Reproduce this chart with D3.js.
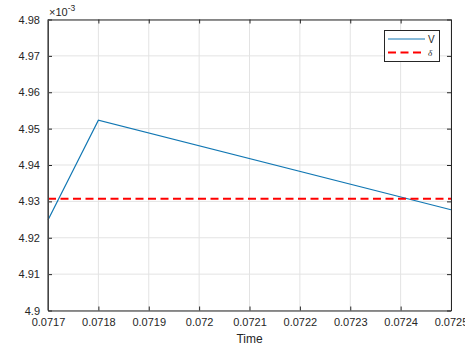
<!DOCTYPE html>
<html><head><meta charset="utf-8">
<script src="https://cdn.jsdelivr.net/npm/d3@7"></script>
<style>
body{margin:0;background:#fff;}
svg{display:block;font-family:"Liberation Sans",Arial,Helvetica,sans-serif;}
</style></head>
<body>
<svg id="chart" width="465" height="347"></svg>
<script>
// Data
const timeValues = [0.0717, 0.0718, 0.0725];
const vValues = [0.0049249, 0.0049523, 0.0049277];
const deltaValue = 0.0049307;
const xTicks = [0.0717, 0.0718, 0.0719, 0.0720, 0.0721, 0.0722, 0.0723, 0.0724, 0.0725];
const xTickLabels = ["0.0717","0.0718","0.0719","0.072","0.0721","0.0722","0.0723","0.0724","0.0725"];
const yTicks = [0.00490,0.00491,0.00492,0.00493,0.00494,0.00495,0.00496,0.00497,0.00498];
const yTickLabels = ["4.9","4.91","4.92","4.93","4.94","4.95","4.96","4.97","4.98"];
const seriesNames = ["V", "\u03b4"];

const svg = d3.select("#chart");
const L = 48, R = 451, T = 19.5, B = 310.5;
const x = d3.scaleLinear().domain([0.0717, 0.0725]).range([L, R]);
const y = d3.scaleLinear().domain([0.0049, 0.00498]).range([B, T]);
const vColor = "#1177b3";

// grid
const g = svg.append("g");
g.selectAll(".gx").data(xTicks).join("line")
  .attr("x1", d => x(d)).attr("x2", d => x(d)).attr("y1", T).attr("y2", B)
  .attr("stroke", "#e3e3e3").attr("stroke-width", 1);
g.selectAll(".gy").data(yTicks).join("line")
  .attr("y1", d => y(d)).attr("y2", d => y(d)).attr("x1", L).attr("x2", R)
  .attr("stroke", "#e3e3e3").attr("stroke-width", 1);

// series
const line = d3.line().x((d, i) => x(timeValues[i])).y(d => y(d));
svg.append("path").datum(vValues).attr("d", line)
  .attr("fill", "none").attr("stroke", vColor).attr("stroke-width", 1.2);
svg.append("line")
  .attr("x1", x(0.0717)).attr("x2", x(0.0725))
  .attr("y1", y(deltaValue)).attr("y2", y(deltaValue))
  .attr("stroke", "#ff0000").attr("stroke-width", 2).attr("stroke-dasharray", "8,4.5");

// axes
const tickLen = 4;
const xAxis = d3.axisBottom(x).tickValues(xTicks).tickFormat((d, i) => xTickLabels[i]).tickSizeInner(-tickLen).tickSizeOuter(0).tickPadding(8);
const yAxis = d3.axisLeft(y).tickValues(yTicks).tickFormat((d, i) => yTickLabels[i]).tickSizeInner(-tickLen).tickSizeOuter(0).tickPadding(8);
const xTop = d3.axisTop(x).tickValues(xTicks).tickFormat("").tickSizeInner(-tickLen).tickSizeOuter(0);
const yRight = d3.axisRight(y).tickValues(yTicks).tickFormat("").tickSizeInner(-tickLen).tickSizeOuter(0);

function style(sel) {
  sel.selectAll("path").attr("stroke", "#262626").attr("stroke-width", 1);
  sel.selectAll("line").attr("stroke", "#262626").attr("stroke-width", 1);
  sel.selectAll("text").attr("fill", "#262626").attr("font-size", 11).attr("font-family", "Liberation Sans, Arial, sans-serif");
}
svg.append("g").attr("transform", `translate(0,${B})`).call(xAxis).call(style);
svg.append("g").attr("transform", `translate(${L},0)`).call(yAxis).call(style);
svg.append("g").attr("transform", `translate(0,${T})`).call(xTop).call(style);
svg.append("g").attr("transform", `translate(${R},0)`).call(yRight).call(style);
svg.selectAll(".domain").attr("stroke", "#262626");
svg.append("line").attr("x1", L).attr("x2", L).attr("y1", T).attr("y2", B).attr("stroke", "#555").attr("stroke-width", 1.3);

// exponent label
const ex = svg.append("text").attr("x", 49).attr("y", 16).attr("fill", "#262626")
  .attr("font-size", 11).attr("font-family", "Liberation Sans, Arial, sans-serif");
ex.append("tspan").text("\u00d710");
ex.append("tspan").attr("dy", -5).attr("font-size", 8.5).text("-3");

// x label
svg.append("text").attr("x", (L + R) / 2).attr("y", 343).attr("text-anchor", "middle")
  .attr("fill", "#262626").attr("font-size", 12).attr("font-family", "Liberation Sans, Arial, sans-serif").text("Time");

// legend
const lg = svg.append("g");
lg.append("rect").attr("x", 384.5).attr("y", 30.5).attr("width", 55).attr("height", 31)
  .attr("fill", "#fff").attr("stroke", "#262626").attr("stroke-width", 1);
lg.append("line").attr("x1", 388).attr("x2", 425).attr("y1", 39).attr("y2", 39)
  .attr("stroke", vColor).attr("stroke-width", 1.2);
lg.append("line").attr("x1", 388).attr("x2", 425).attr("y1", 52.5).attr("y2", 52.5)
  .attr("stroke", "#ff0000").attr("stroke-width", 2).attr("stroke-dasharray", "8,4.5");
lg.append("text").attr("x", 428).attr("y", 43).attr("font-size", 10).attr("fill", "#262626")
  .attr("font-family", "Liberation Sans, Arial, sans-serif").text(seriesNames[0]);
lg.append("text").attr("x", 428).attr("y", 56).attr("font-size", 9).attr("font-style", "italic").attr("fill", "#262626")
  .attr("font-family", "Liberation Serif, serif").text(seriesNames[1]);
</script>
</body></html>
